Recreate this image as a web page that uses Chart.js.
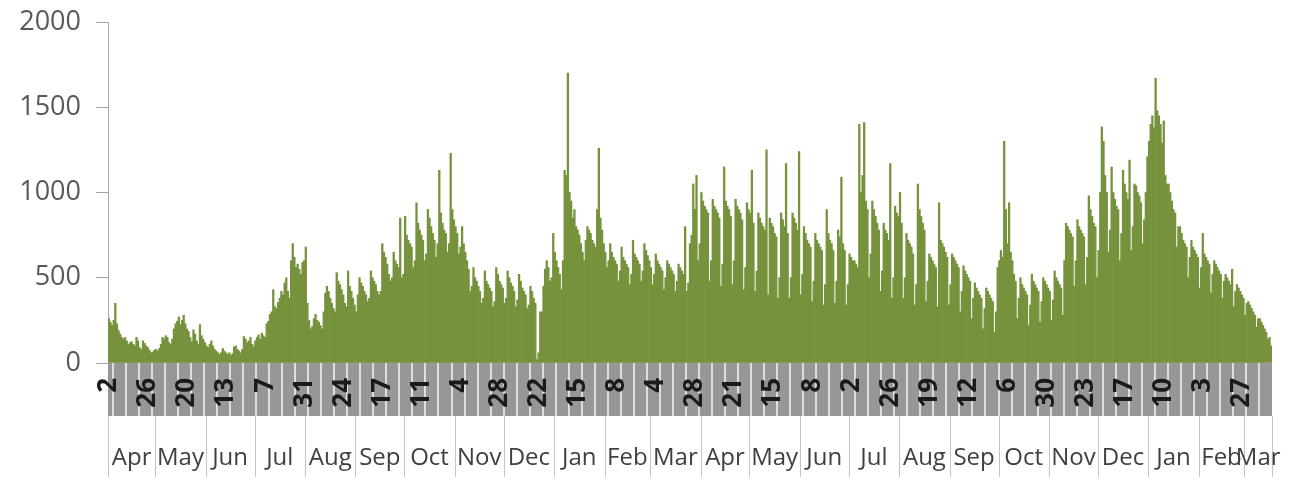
<!DOCTYPE html>
<html>
<head>
<meta charset="utf-8">
<script src="https://cdn.jsdelivr.net/npm/chart.js@4.4.0/dist/chart.umd.min.js"></script>
<style>
  html, body { margin: 0; padding: 0; background: #ffffff; }
  #wrap { width: 1294px; height: 481px; }
</style>
</head>
<body>
<div id="wrap"><canvas id="c" width="1294" height="481"></canvas></div>
<script>
// Months shown on the axis and how many days of each are plotted (Apr 2 .. Mar 17)
const monthNames = ['Apr','May','Jun','Jul','Aug','Sep','Oct','Nov','Dec','Jan','Feb','Mar',
                    'Apr','May','Jun','Jul','Aug','Sep','Oct','Nov','Dec','Jan','Feb','Mar'];
const monthDays  = [29,31,30,31,31,30,31,30,31,31,28,31,
                    30,31,30,31,31,30,31,30,31,31,28,17];
const monthFirstDay = [2,1,1,1,1,1,1,1,1,1,1,1, 1,1,1,1,1,1,1,1,1,1,1,1];

// Day-of-month tick labels (one every 24 days)
const dayTickLabels = ['2','26','20','13','7','31','24','17','11','4','28','22','15','8','4',
                       '28','21','15','8','2','26','19','12','6','30','23','17','10','3','27'];
const tickEvery = 24;

// Daily values
const dailyValues = [
  260,240,220,250,350,230,190,
  170,150,140,150,130,110,120,
  125,110,100,150,130,90,80,
  130,115,100,90,75,60,65,
  75,80,70,85,110,150,140,
  160,150,120,110,140,200,230,
  245,270,225,250,280,230,200,
  185,150,125,195,170,130,110,
  225,160,140,120,100,90,110,
  130,100,80,70,60,50,60,
  85,70,60,50,60,45,55,
  95,100,80,70,60,80,155,
  140,120,130,150,110,95,130,
  150,165,140,175,160,150,230,
  245,285,300,430,330,320,355,
  380,420,400,470,500,420,380,
  600,700,620,560,580,550,520,
  590,600,680,350,250,200,215,
  260,285,250,240,220,200,300,
  410,450,420,380,350,320,300,
  530,480,460,430,400,350,330,
  540,450,420,380,340,300,400,
  500,470,450,420,400,360,380,
  540,500,480,460,420,400,420,
  700,650,620,580,520,480,500,
  650,600,580,560,850,500,520,
  860,750,720,700,680,560,600,
  940,820,780,750,720,600,640,
  900,850,800,760,720,620,700,
  1130,880,820,780,760,650,700,
  1230,900,840,800,760,640,680,
  800,700,650,600,550,420,450,
  560,500,480,450,420,350,380,
  540,480,460,440,420,330,360,
  560,520,480,460,440,350,380,
  540,500,470,450,420,330,370,
  520,480,440,420,400,320,340,
  450,420,380,350,20,60,300,
  300,450,550,600,560,480,500,
  760,650,600,560,520,430,600,
  1130,1100,1700,1000,950,850,900,
  800,780,750,700,650,600,720,
  800,780,760,720,700,680,900,
  1260,850,780,700,650,560,600,
  700,650,620,600,580,480,540,
  680,620,600,580,560,460,520,
  720,640,620,600,580,480,540,
  700,660,630,600,560,460,520,
  640,600,580,560,540,430,500,
  600,580,560,540,520,420,480,
  580,560,540,520,800,420,470,
  700,750,1050,900,1100,600,700,
  1000,950,920,900,880,480,600,
  960,920,900,880,850,450,580,
  1150,950,920,900,860,460,600,
  960,920,900,880,840,430,560,
  940,900,880,1130,820,420,540,
  880,850,820,800,780,1250,400,
  850,820,800,760,740,380,500,
  880,840,800,1170,760,380,500,
  880,850,820,780,1240,400,520,
  800,760,720,700,680,360,480,
  760,720,700,680,660,340,460,
  900,760,720,700,660,350,480,
  780,740,1090,700,660,340,460,
  640,620,600,600,580,560,1400,
  1000,1100,1410,950,900,500,640,
  950,900,860,820,780,420,540,
  820,780,760,720,1170,380,500,
  920,880,860,1000,820,380,500,
  760,720,700,680,640,340,460,
  1050,900,860,820,780,360,480,
  640,620,600,580,560,330,940,
  720,700,680,650,620,340,460,
  640,620,600,580,560,300,420,
  570,540,520,500,480,260,380,
  470,440,420,400,380,200,320,
  440,420,400,380,360,180,300,
  560,600,660,620,1300,900,700,
  940,650,600,520,480,260,380,
  500,460,440,420,400,220,340,
  520,480,460,440,420,240,360,
  500,480,460,440,420,250,370,
  540,500,480,460,440,280,600,
  820,800,780,760,740,450,600,
  840,800,780,760,740,460,620,
  980,900,860,820,800,500,660,
  1000,1385,1300,1100,1000,650,780,
  1150,1000,960,920,900,600,760,
  1130,1050,1000,960,1190,660,800,
  1050,1040,1000,980,940,700,840,
  1000,1210,1300,1400,1450,1380,1670,
  1480,1450,1400,1290,1420,1100,1050,
  1050,1000,950,900,880,680,800,
  800,760,720,700,680,500,620,
  720,680,660,640,620,440,560,
  760,640,620,600,580,410,520,
  600,580,560,540,520,380,480,
  520,500,480,460,550,330,420,
  460,440,420,400,380,280,350,
  360,340,320,300,280,210,260,
  260,240,220,200,180,140,150,
  100
];

const yTicks = [0, 500, 1000, 1500, 2000];

// Build the daily categories from the month table
const categories = [];
const monthStartIndex = [];
monthNames.forEach((m, k) => {
  monthStartIndex.push(categories.length);
  for (let d = 0; d < monthDays[k]; d++) categories.push(m + ' ' + (monthFirstDay[k] + d));
});

const BAND_H = 53;

const axisDecor = {
  id: 'axisDecor',
  beforeDraw(chart) {
    const { ctx, chartArea, scales } = chart;
    const x = scales.x;
    const half = (x.getPixelForValue(1) - x.getPixelForValue(0)) / 2;
    const top = chartArea.bottom;
    ctx.save();
    ctx.fillStyle = '#979797';
    ctx.fillRect(chartArea.left, top, chartArea.right - chartArea.left, BAND_H);
    ctx.strokeStyle = '#dedede';
    ctx.lineWidth = 2;
    for (let i = 3; i < categories.length; i += 8) {
      const px = Math.round(x.getPixelForValue(i) - half);
      ctx.beginPath();
      ctx.moveTo(px, top);
      ctx.lineTo(px, top + BAND_H);
      ctx.stroke();
    }
    ctx.restore();
  },
  afterDraw(chart) {
    const { ctx, chartArea, scales } = chart;
    const x = scales.x;
    const half = (x.getPixelForValue(1) - x.getPixelForValue(0)) / 2;
    const y0 = chartArea.bottom + BAND_H;
    const y1 = y0 + 61;
    ctx.save();
    ctx.strokeStyle = '#c4c4c4';
    ctx.lineWidth = 1;
    const bounds = monthStartIndex.map(i => x.getPixelForValue(i) - half);
    bounds.push(x.getPixelForValue(categories.length - 1) + half);
    bounds.forEach(b => {
      const px = Math.round(b) + 0.5;
      ctx.beginPath();
      ctx.moveTo(px, y0);
      ctx.lineTo(px, y1);
      ctx.stroke();
    });
    ctx.fillStyle = '#404040';
    ctx.font = '24px "Open Sans"';
    ctx.textAlign = 'center';
    ctx.textBaseline = 'alphabetic';
    monthNames.forEach((m, k) => {
      const cx = (bounds[k] + bounds[k + 1]) / 2;
      ctx.fillText(m, cx, y0 + 49);
    });
    ctx.restore();
  }
};

new Chart(document.getElementById('c'), {
  type: 'bar',
  data: {
    labels: categories,
    datasets: [{
      data: dailyValues,
      backgroundColor: '#76923c',
      borderWidth: 0,
      barPercentage: 1,
      categoryPercentage: 1
    }]
  },
  options: {
    responsive: false,
    animation: false,
    devicePixelRatio: 1,
    layout: { padding: { top: 22, right: 22, left: 0, bottom: 0 } },
    plugins: { legend: { display: false }, tooltip: { enabled: false } },
    scales: {
      x: {
        type: 'category',
        grid: { display: false, drawTicks: false },
        border: { display: false },
        ticks: {
          autoSkip: false,
          minRotation: 90,
          maxRotation: 90,
          padding: 15,
          color: '#1a1a1a',
          font: { family: 'Open Sans', size: 26, weight: 'bold' },
          callback: (val, idx) => (idx % tickEvery === 0 ? dayTickLabels[idx / tickEvery] : null)
        },
        afterFit: (s) => { s.height = 118; s.paddingLeft = 0; s.paddingRight = 0; }
      },
      y: {
        min: 0,
        max: 2000,
        afterBuildTicks: (s) => { s.ticks = yTicks.map(v => ({ value: v })); },
        grid: { drawOnChartArea: false, drawTicks: true, tickLength: 12, color: '#a6a6a6' },
        border: { display: true, color: '#a6a6a6' },
        ticks: {
          padding: 15,
          color: '#595959',
          font: { family: 'Open Sans', size: 27 },
          callback: (v) => String(v)
        },
        afterFit: (s) => { s.width = 108; s.paddingTop = 0; s.paddingBottom = 0; }
      }
    }
  },
  plugins: [axisDecor]
});
</script>
</body>
</html>
